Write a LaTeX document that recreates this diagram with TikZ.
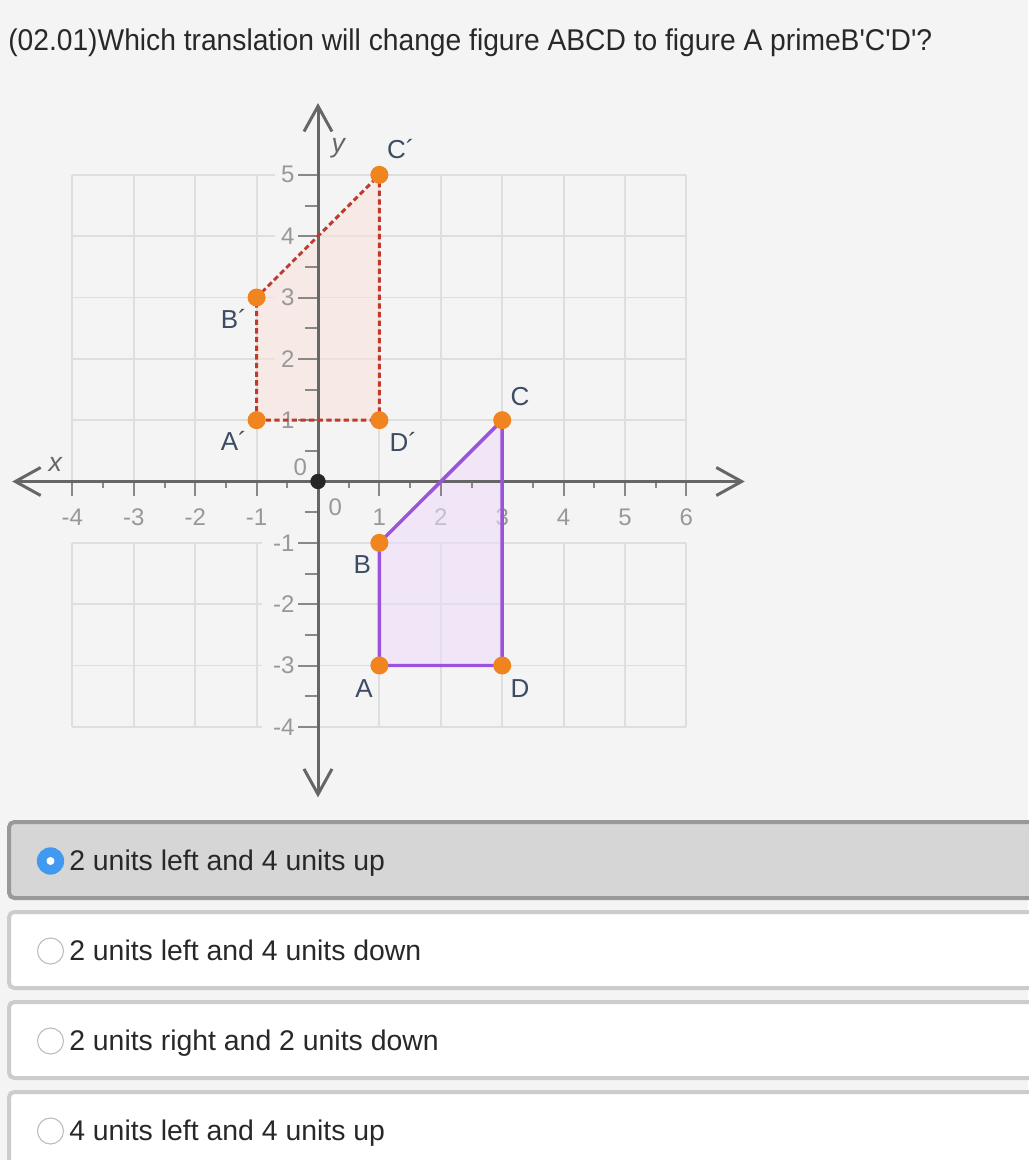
\documentclass[tikz,border=0pt]{standalone}
\usepackage{graphicx}
\usepackage{fontspec}
\setmainfont{Liberation Sans}[Ligatures=TeXOff]
\usetikzlibrary{arrows.meta}
\definecolor{pagebg}{RGB}{244,244,244}
\definecolor{gridc}{RGB}{222,222,222}
\definecolor{axisc}{RGB}{102,102,102}
\definecolor{tickc}{RGB}{136,136,136}
\definecolor{ticklabc}{RGB}{152,152,152}
\definecolor{labc}{RGB}{61,76,98}
\definecolor{orangec}{RGB}{240,132,30}
\definecolor{purplec}{RGB}{155,82,220}
\definecolor{purplefillc}{RGB}{237,220,253}
\definecolor{redc}{RGB}{192,57,43}
\definecolor{pinkfillc}{RGB}{251,224,219}
\definecolor{textc}{RGB}{40,40,40}
\definecolor{radioblue}{RGB}{66,153,240}
\definecolor{selfill}{RGB}{214,214,214}
\definecolor{selborder}{RGB}{153,153,153}
\definecolor{optborder}{RGB}{204,204,204}
\definecolor{radioborder}{RGB}{187,187,187}
\begin{document}
\begin{tikzpicture}[x=0.75pt,y=-0.75pt,
  gridline/.style={draw=gridc,line width=1.4pt},
  axisline/.style={draw=axisc,line width=2.25pt,
    {Straight Barb[length=19pt,width=21pt]}-{Straight Barb[length=19pt,width=21pt]}},
  tickmark/.style={draw=tickc,line width=1.5pt},
  ticklab/.style={text=ticklabc,inner sep=0pt,font=\fontsize{18}{18}\selectfont},
  ptlab/.style={text=labc,inner sep=0pt,font=\fontsize{19.5}{19.5}\selectfont},
  axlab/.style={text=axisc,inner sep=0pt,font=\fontsize{20}{20}\selectfont\itshape},
  odot/.style={circle,fill=orangec,inner sep=0pt,minimum size=13.5pt},
  blackdot/.style={circle,fill=black!85,inner sep=0pt,minimum size=11.5pt},
  purpleline/.style={draw=purplec,line width=2.6pt,line join=round},
  reddash/.style={draw=redc,line width=2.2pt,dash pattern=on 4pt off 2.5pt},
  selbox/.style={fill=selfill,draw=selborder,line width=3pt,rounded corners=4pt},
  optbox/.style={fill=white,draw=optborder,line width=3pt,rounded corners=4pt},
  anstext/.style={anchor=base west,inner sep=0pt,text=textc,font=\fontsize{21.3}{24}\selectfont},
  radiosel/.style={circle,fill=radioblue,inner sep=0pt,minimum size=20.5pt},
  radiodot/.style={circle,fill=white,inner sep=0pt,minimum size=6pt},
  radioopt/.style={circle,fill=white,draw=radioborder,line width=0.8pt,inner sep=0pt,minimum size=19.5pt}
]
\useasboundingbox (0,0) rectangle (1028,1160);
\fill[pagebg] (0,0) rectangle (1028,1160);

% question
\node[anchor=base west,inner sep=0pt,text=textc] (title) at (8,50)
  {\resizebox{693pt}{\height}{\fontsize{22.5}{27}\selectfont (02.01)Which translation will change figure ABCD to figure A primeB'C'D'?}};

% graph
\begin{scope}[shift={(318,481.5)},x=46.05pt,y=46pt]
  % grid
  \foreach \i in {-4,-3,-2,-1,1,2,3,4,5,6} {
    \draw[gridline] (\i,0) -- (\i,5);
    \draw[gridline] (\i,-1) -- (\i,-4);
  }
  \foreach \j in {1,...,5} {
    \draw[gridline] (-4,\j) -- (-0.7,\j);
    \draw[gridline] (0,\j) -- (6,\j);
  }
  \foreach \j in {-1,-2,-3,-4} {
    \draw[gridline] (-4,\j) -- (-0.92,\j);
    \draw[gridline] (0,\j) -- (6,\j);
  }
  % x tick labels (under the fill)
  \foreach \i in {-4,-3,-2,-1,1,2,3,4,5,6}
    \node[ticklab] (xl\i) at (\i,-0.58) {\i};
  \node[ticklab] (zeroa) at (-0.29,0.24) {0};
  \node[ticklab] (zerob) at (0.28,-0.42) {0};

  % vertices
  \coordinate (A) at (1,-3);
  \coordinate (B) at (1,-1);
  \coordinate (C) at (3,1);
  \coordinate (D) at (3,-3);
  \coordinate (Ap) at (-1,1);
  \coordinate (Bp) at (-1,3);
  \coordinate (Cp) at (1,5);
  \coordinate (Dp) at (1,1);

  % fills
  \fill[pinkfillc,fill opacity=0.55] (Ap) -- (Bp) -- (Cp) -- (Dp) -- cycle;
  \fill[purplefillc,fill opacity=0.55] (A) -- (B) -- (C) -- (D) -- cycle;

  % ticks
  \foreach \i in {-4,-3,-2,-1,1,2,3,4,5,6}
    \draw[tickmark] (\i,0) -- (\i,-0.24);
  \foreach \i in {-3.5,-2.5,...,5.5}
    \draw[tickmark] (\i,0) -- (\i,-0.11);
  \foreach \j in {-4,-3,-2,-1,1,2,3,4,5}
    \draw[tickmark] (-0.32,\j) -- (0,\j);
  \foreach \j in {-3.5,-2.5,...,4.5}
    \draw[tickmark] (-0.21,\j) -- (0,\j);
  % y tick labels
  \foreach \j in {-4,-3,-2,-1,1,2,3,4,5}
    \node[ticklab,anchor=east] (yl\j) at (-0.38,\j) {\j};

  % axes
  \coordinate (xleft) at (-4.98,0);
  \coordinate (xright) at (6.95,0);
  \coordinate (ybot) at (0,-5.15);
  \coordinate (ytop) at (0,6.17);
  \draw[axisline] (xleft) -- (xright);
  \draw[axisline] (ybot) -- (ytop);
  \node[axlab] (xlab) at (-4.28,0.27) {x};
  \node[axlab] (ylab) at (0.33,5.44) {y};

  % polygons
  \draw[reddash] (Ap) -- (Bp) -- (Cp) -- (Dp) -- cycle;
  \draw[purpleline] (A) -- (B) -- (C) -- (D) -- cycle;

  % dots
  \node[blackdot] (O) at (0,0) {};
  \node[odot] (dA) at (A) {};
  \node[odot] (dB) at (B) {};
  \node[odot] (dC) at (C) {};
  \node[odot] (dD) at (D) {};
  \node[odot] (dAp) at (Ap) {};
  \node[odot] (dBp) at (Bp) {};
  \node[odot] (dCp) at (Cp) {};
  \node[odot] (dDp) at (Dp) {};

  % point labels
  \node[ptlab] (lCp) at (1.35,5.42) {C´};
  \node[ptlab] (lBp) at (-1.37,2.65) {B´};
  \node[ptlab] (lAp) at (-1.37,0.66) {A´};
  \node[ptlab] (lDp) at (1.39,0.64) {D´};
  \node[ptlab] (lC) at (3.29,1.39) {C};
  \node[ptlab] (lB) at (0.72,-1.35) {B};
  \node[ptlab] (lA) at (0.75,-3.37) {A};
  \node[ptlab] (lD) at (3.29,-3.37) {D};
\end{scope}

% answer boxes
\draw[selbox] (9,822) rectangle (1045,898);
\draw[optbox] (9,912) rectangle (1045,988);
\draw[optbox] (9,1002) rectangle (1045,1078);
\draw[optbox] (9,1092) rectangle (1045,1175);

\node[radiosel] (r1) at (50.5,861) {};
\node[radiodot] (r1dot) at (r1) {};
\node[radioopt] (r2) at (50.5,951) {};
\node[radioopt] (r3) at (50.5,1041) {};
\node[radioopt] (r4) at (50.5,1131) {};

\node[anstext] (a1) at (69,870) {2 units left and 4 units up};
\node[anstext] (a2) at (69,960) {2 units left and 4 units down};
\node[anstext] (a3) at (69,1050) {2 units right and 2 units down};
\node[anstext] (a4) at (69,1140) {4 units left and 4 units up};
\end{tikzpicture}
\end{document}
